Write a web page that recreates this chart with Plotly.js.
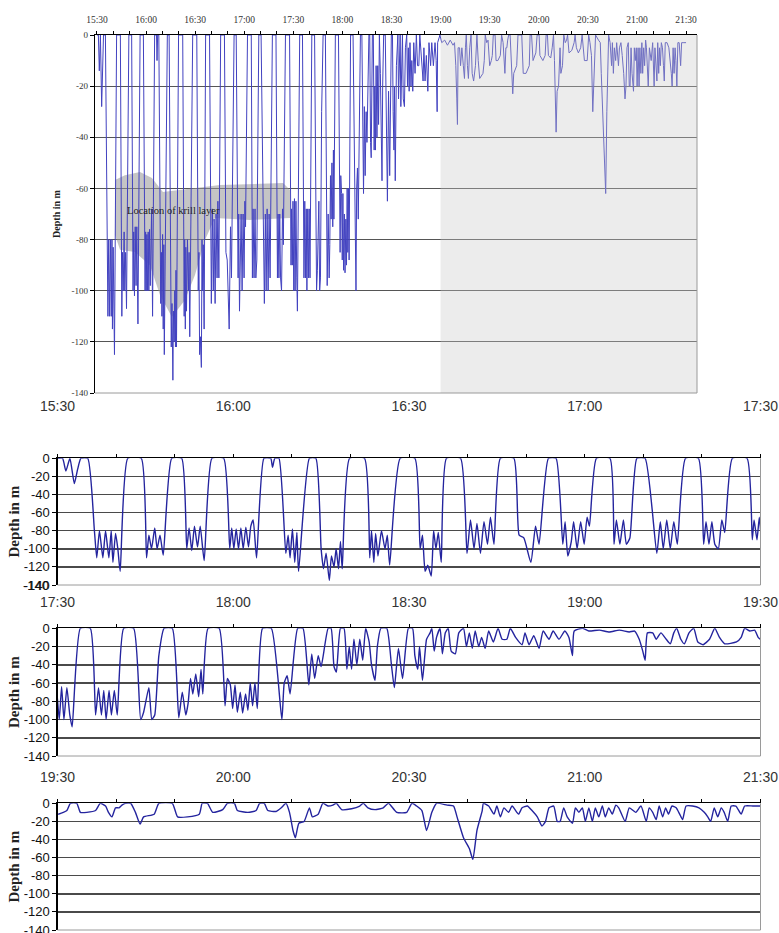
<!DOCTYPE html>
<html><head><meta charset="utf-8">
<script src="https://cdn.plot.ly/plotly-3.0.1.min.js"></script>
<style>html,body{margin:0;padding:0;background:#fff}#chart{width:779px;height:933px}</style>
</head><body><div id="chart"></div><script>
// Time axis labels, every 30 minutes from 15:30
const timeLabels = ['15:30','16:00','16:30','17:00','17:30','18:00','18:30','19:00','19:30','20:00','20:30','21:00','21:30'];
const depthTicks = [0,-20,-40,-60,-80,-100,-120,-140];

// Dive record, minutes elapsed since 15:30 and depth in m
// 15:30 - 17:30
const minutesA = [0,0.86,1.43,2.12,2.87,3.44,4.0,5.16,
 6.3,6.7,7.16,7.74,8.2,8.77,9.17,9.46,9.91,10.3,10.7,12.0,14.3,
 15.2,15.6,16.05,16.6,17.0,17.5,18.05,19.5,21.2,
 22.06,22.46,22.92,23.38,23.9,24.36,25.04,26.36,28.37,
 29.4,29.74,30.1,30.5,30.9,31.3,31.7,32.15,32.6,33.0,33.4,33.98,35.24,36.4,36.7,37.1,37.8,
 38.97,39.37,39.7,40.1,40.5,40.86,41.15,43.0,44.1,
 45.0,45.4,45.85,46.4,46.76,47.2,47.56,47.97,48.3,48.6,49.86,52.4,
 53.3,53.6,54.0,54.3,54.7,55.3,55.9,56.3,56.7,58.5,61.0,
 61.9,62.3,62.75,63.2,63.8,64.2,64.6,65.0,65.5,66.4,68.8,
 69.9,70.5,71.1,71.6,72.2,72.8,73.4,73.9,74.5,75.6,77.9,
 78.8,79.6,80.8,81.6,82.2,83.8,85.1,
 86.25,86.65,87.1,87.7,88.1,88.7,89.3,89.9,90.4,90.8,92.0,94.3,
 95.0,95.4,96.0,96.6,97.1,97.7,98.9,100.3,
 102.3,102.9,103.4,104.0,104.6,105.2,105.8,107.2,109.4,
 110.3,110.7,111.2,111.7,112.2,112.8,113.4,113.9,115.2,117.7,
 118.6,118.9,119.4,119.8];
const depthA = [0,0,-14,0,-28,-12,0,0,
 -80,-110,-80,-110,-80,-110,-80,-115,-83,-100,-125,0,0,
 -110,-85,-100,-77,-100,-85,-107,0,0,
 -100,-77,-102,-75,-98,-75,-113,0,0,
 -100,-77,-100,-78,-100,-77,-100,-76,-98,-75,-68,-110,0,0,-10,0,0,
 -105,-85,-110,-78,-115,-82,-125,0,0,
 -100,-122,-105,-135,-108,-120,-100,-122,-92,-122,0,0,
 -110,-80,-115,-83,-108,-80,-100,-85,-118,0,0,
 -100,-85,-125,-118,-130,-80,-100,-82,-115,0,0,
 -105,-68,-100,-72,-105,-70,-95,-65,-95,0,0,
 -85,-88,-115,-75,-95,0,0,
 -95,-70,-108,-92,-70,-100,-70,-95,-65,-75,0,0,
 -95,-68,-95,-68,-95,-88,0,0,
 -105,-70,-100,-68,-100,-70,-95,0,0,
 -95,-70,-95,-70,-95,-100,-68,-82,0,0,
 -90,-68,-90,-65];

// 17:30 - 19:30
const minutesB = [120.3,120.7,121.1,121.6,122.1,122.5,123.9,125.6,
 126.5,127.0,127.5,127.9,128.3,128.8,129.2,129.7,130.2,131.3,133.0,
 134.2,134.7,135.6,136.1,136.6,137.3,138.2,139.6,
 140.7,141.3,141.9,142.3,142.7,143.1,143.6,144.1,144.5,144.8,145.7,147.6,
 148.6,149.0,149.5,149.9,150.3,150.7,151.2,151.6,152.1,152.5,152.9,153.3,153.7,154.1,155.0,156.5,
 158.3,158.7,159.2,159.7,161.0,161.9,
 162.9,163.4,163.9,164.5,165.0,166.2,166.7,
 167.2,167.6,168.3,168.9,
 169.4,169.8,170.2,170.6,171.1,171.6,172.1,172.6,
 173.2,173.6,174.2,174.6,175.2,176.2,
 177.0,177.5,178.2,178.9,179.9,180.6,
 181.0,181.5,181.8,182.3,183.0,183.6,183.9,
 184.3,184.7,185.3,185.7,186.2,186.7,
 187.2,187.9,188.5,189.3,189.8,190.3,190.8,191.3,191.9,192.4,193.0,193.6,194.4,195.2,
 195.9,196.7,197.3,198.2,199.3,199.8,200.5,201.3,202.2,202.9,203.9,204.6,205.6,206.6,
 207.3,207.9,208.2,209.6,210.7,212.5,214.2,215.9,217.6,218.5,
 219.3,219.9,220.3,220.7,221.6,222.2,223.0,223.9,224.6,225.2,225.7,
 226.4,227.0,227.8,228.6,229.3,230.2,231.3,232.2,
 233.0,233.9,235.9,236.7,237.3,238.2,239.0,239.6,240.0];
const depthB = [-100,-64,-100,-65,-95,-108,0,0,
 -95,-65,-95,-68,-100,-68,-95,-68,-95,0,0,
 -100,-92,-65,-100,-95,-30,0,0,
 -98,-70,-95,-82,-55,-72,-50,-75,-45,-72,0,0,
 -85,-55,-62,-88,-62,-92,-70,-93,-72,-90,-60,-85,-60,-88,0,0,
 -100,-60,-52,-72,0,0,
 -62,-28,-55,-30,-42,0,0,
 -42,-48,0,0,
 -45,-20,-45,-12,-40,-12,-35,0,
 -15,-40,-57,-20,0,0,
 -40,-65,-22,-55,0,0,
 -30,-45,-20,-57,-12,-5,0,
 -25,-10,0,-28,-5,0,
 -25,-28,-5,0,-20,-5,-22,-3,-20,-10,-22,-3,-15,0,
 -12,-12,0,-10,-18,-5,-18,-8,-22,-3,-12,-3,-12,-3,
 -10,-30,-3,0,-3,-2,-4,-2,-4,-3,
 -12,-25,-35,-5,-5,-12,-5,-12,-17,-5,0,
 -12,-17,-5,0,-15,-18,-12,0,
 -10,-17,-15,-10,0,-3,-2,-10,-12];

// 19:30 - 21:30
const minutesC = [241.0,241.6,242.2,243.3,243.9,245.0,246.5,247.3,
 248.2,248.7,249.3,249.9,250.5,251.0,251.6,252.5,
 253.3,254.1,254.7,256.5,257.3,259.6,
 260.5,262.2,264.2,264.7,265.6,
 266.5,268.2,269.0,270.2,
 270.7,272.5,273.9,274.5,275.3,
 275.9,277.3,278.2,279.0,
 279.6,280.2,280.6,281.2,282.1,283.0,283.5,284.5,285.3,
 286.2,287.0,287.6,288.5,290.2,291.6,292.2,
 293.0,294.2,295.6,296.5,297.9,299.6,300.5,
 301.3,302.2,303.0,303.9,304.7,306.5,307.6,
 308.2,309.3,310.3,310.9,311.6,312.5,312.7,
 313.6,314.5,315.0,315.6,316.2,317.0,317.6,318.7,319.3,320.2,
 321.0,321.9,322.7,323.3,323.9,324.7,325.3,325.8,326.4,327.0,
 327.9,328.4,329.0,329.6,330.1,330.7,331.3,331.8,332.4,333.0,
 333.5,334.1,334.7,335.3,335.8,336.9,337.6,338.7,339.6,340.5,
 341.0,341.6,342.2,342.7,343.3,343.8,344.3,344.9,345.6,346.2,
 346.7,347.3,348.4,349.5,350.4,351.0,351.5,352.1,352.7,353.3,
 353.8,354.4,355.0,355.8,356.7,357.3,358.7,360.0];
const depthC = [-10,-8,0,0,-10,-10,-8,0,
 -3,-10,-15,-5,-5,-2,0,0,
 -10,-23,-15,-12,0,0,
 -15,-15,-12,0,0,
 -10,-7,0,0,
 -8,-10,-8,0,0,
 -8,-9,-5,0,
 -10,-30,-38,-22,-20,-5,-15,-12,0,
 -3,-2,0,-7,-6,-3,0,
 -5,-7,-5,0,-10,-10,0,
 -3,-8,-30,-10,0,-2,-3,
 -15,-38,-50,-62,-30,-8,0,
 -3,-12,-3,-15,-5,-10,-3,-12,-5,-3,
 -8,-15,-25,-20,-5,-3,-20,-20,-5,-15,
 -22,-5,-10,-5,-20,-5,-20,-5,-15,-3,
 -15,-5,-12,-2,-5,-20,-5,-10,-3,-20,
 -5,-10,-18,-3,-15,-5,-12,-3,-5,-12,
 -18,-3,-3,-5,-10,-15,-20,-5,-15,-5,
 -10,-20,-3,-3,-12,-3,-3,-3];

// Outline of the krill layer (overview panel)
const krillMinutes = [11,17.1,26.3,33.6,40.3,50.7,75.2,113.7,118,118,93.5,72.1,66,59.9,53.8,45.8,38.5,32.4,23.2,14.1,11,11];
const krillDepth = [-56.7,-54.8,-53.6,-55.9,-61.4,-60.6,-58.7,-57.9,-60.6,-71.6,-72.3,-71.6,-80.2,-93.9,-103.6,-110.3,-101.7,-90,-84.9,-84,-78.2,-56.7];
const krillLabel = 'Location of krill layer';
const nightStartMinute = 210; // 19:00, shaded part

const allMinutes = minutesA.concat(minutesB, minutesC);
const allDepth = depthA.concat(depthB, depthC);
if (allMinutes.length !== allDepth.length) console.error('length mismatch', allMinutes.length, allDepth.length);

function ticks(start, end) {
  const vals = [], text = [];
  for (let m = start; m <= end; m += 10) {
    vals.push(m);
    text.push(m % 30 === 0 ? timeLabels[m / 30] : '');
  }
  return {vals, text};
}
const H = 933, W = 779;
const dy = (top, bottom) => [1 - bottom / H, 1 - top / H];
const dx = (l, r) => [l / W, r / W];

const serif = 'Liberation Serif, Times New Roman, serif';
const sans = 'Liberation Sans, Arial, sans-serif';
const lineBlue = '#24249e';

const traces = [
  {x: krillMinutes, y: krillDepth, xaxis: 'x', yaxis: 'y', mode: 'lines', fill: 'toself',
   fillcolor: 'rgba(150,150,150,0.55)', line: {width: 0}, hoverinfo: 'skip'},
  {x: allMinutes, y: allDepth, xaxis: 'x', yaxis: 'y', mode: 'lines',
   line: {color: 'rgb(66,66,192)', width: 1}, hoverinfo: 'skip'},
  {x: allMinutes, y: allDepth, xaxis: 'x2', yaxis: 'y2', mode: 'lines',
   line: {color: lineBlue, width: 1.4, shape: 'spline', smoothing: 0.5}, hoverinfo: 'skip'},
  {x: allMinutes, y: allDepth, xaxis: 'x3', yaxis: 'y3', mode: 'lines',
   line: {color: lineBlue, width: 1.4, shape: 'spline', smoothing: 0.5}, hoverinfo: 'skip'},
  {x: allMinutes, y: allDepth, xaxis: 'x4', yaxis: 'y4', mode: 'lines',
   line: {color: lineBlue, width: 1.4, shape: 'spline', smoothing: 0.5}, hoverinfo: 'skip'}
];

const depthText = depthTicks.map(v => String(v));

function topX(domain, range, start, end, anchor, standoff, font) {
  const t = ticks(start, end);
  return {domain, range, anchor, side: 'top', tickmode: 'array', tickvals: t.vals, ticktext: t.text,
    ticks: 'outside', ticklen: 3, tickcolor: '#000', showline: true, linecolor: '#000', linewidth: 1.2,
    showgrid: false, zeroline: false, tickfont: font, ticklabelstandoff: standoff, fixedrange: true};
}
function leftY(domain, anchor, font, titleFont, standoff, gridcolor, gridwidth) {
  return {domain, anchor, range: [-140, 0], tickmode: 'array', tickvals: depthTicks, ticktext: depthText,
    ticks: 'outside', ticklen: 4, tickcolor: '#000', showline: true, linecolor: '#000', linewidth: 1.2,
    showgrid: true, gridcolor, gridwidth, zeroline: false, tickfont: font, ticklabeloverflow: 'allow',
    title: {text: 'Depth in m', font: titleFont, standoff}, fixedrange: true};
}

const panelX = dx(57.5, 760.5);
const bigTick = {family: sans, size: 14, color: '#333'};
const bigY = {family: sans, size: 13, color: '#111'};
const bigTitle = {family: serif, size: 15, color: '#222', weight: 'bold'};

const layout = {
  width: W, height: H, margin: {l: 0, r: 0, t: 0, b: 0},
  paper_bgcolor: '#fff', plot_bgcolor: 'rgba(0,0,0,0)', showlegend: false,
  xaxis: topX(dx(95, 697), [-1.2, 366.7], 0, 360, 'y', 4, {family: serif, size: 9.5, color: '#333'}),
  yaxis: leftY(dy(35, 393), 'x', {family: serif, size: 9, color: '#333'},
               {family: serif, size: 10, color: '#222', weight: 'bold'}, 9, '#555', 1),
  xaxis2: topX(panelX, [0, 120], 0, 120, 'y2', 38, bigTick),
  yaxis2: leftY(dy(458.3, 585), 'x2', bigY, bigTitle, 0, '#4a4a4a', 1.5),
  xaxis3: topX(panelX, [120, 240], 120, 240, 'y3', 12, bigTick),
  yaxis3: leftY(dy(628.3, 756), 'x3', bigY, bigTitle, 0, '#4a4a4a', 1.5),
  xaxis4: topX(panelX, [240, 360], 240, 360, 'y4', 12, bigTick),
  yaxis4: leftY(dy(803.3, 930), 'x4', bigY, bigTitle, 0, '#4a4a4a', 1.5),
  shapes: [
    {type: 'rect', xref: 'x', yref: 'y', x0: nightStartMinute, x1: 366.7, y0: -140, y1: 0,
     fillcolor: 'rgba(200,200,200,0.35)', line: {width: 0}, layer: 'above'}
  ],
  annotations: [
    {xref: 'x', yref: 'y', x: 46.8, y: -68.8, text: krillLabel, showarrow: false,
     font: {family: serif, size: 10.5, color: '#222'}},
    // bottom depth label of the first detail panel (Plotly drops it next to the panel below)
    {xref: 'paper', yref: 'y2', x: 51 / W, xanchor: 'right', y: depthTicks[depthTicks.length - 1],
     yanchor: 'middle', text: depthText[depthText.length - 1], showarrow: false, font: bigY}
  ]
};
[['x', 'y'], ['x2', 'y2'], ['x3', 'y3'], ['x4', 'y4']].forEach(([xa, ya]) => {
  layout.shapes.push({type: 'line', xref: xa + ' domain', yref: ya + ' domain', x0: 1, x1: 1, y0: 0, y1: 1,
    line: {color: '#9a9a9a', width: 1}, layer: 'above'});
  layout.shapes.push({type: 'line', xref: xa + ' domain', yref: ya + ' domain', x0: 0, x1: 1, y0: 0, y1: 0,
    line: {color: '#9a9a9a', width: 1}, layer: 'above'});
});

Plotly.newPlot('chart', traces, layout, {staticPlot: true, displayModeBar: false});
</script></body></html>
